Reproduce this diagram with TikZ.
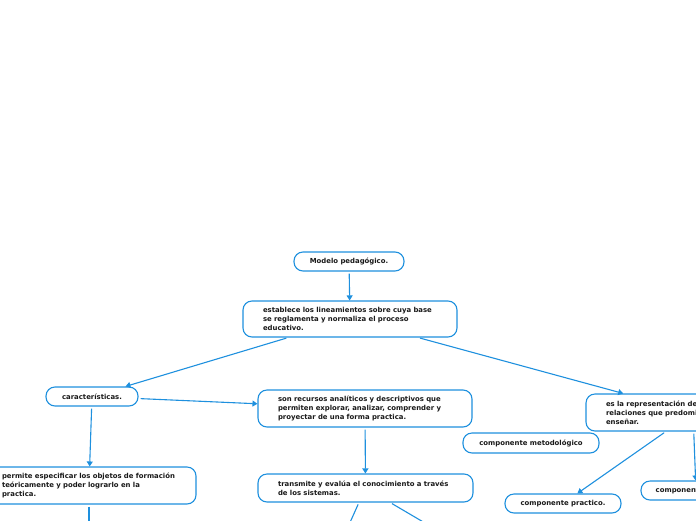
\documentclass[tikz,border=0pt]{standalone}
\usepackage{fontspec}
\setmainfont{DejaVu Sans}
\usetikzlibrary{arrows.meta}
\definecolor{mmblue}{RGB}{30,144,222}
\definecolor{mmtext}{RGB}{25,25,25}
\tikzset{
  mbox/.style={draw=mmblue, line width=1.1pt, rounded corners=9pt, fill=white,
    text=mmtext, font=\fontsize{6.9}{8.8}\selectfont\bfseries, inner ysep=2pt},
  cbox/.style={mbox, align=center},
  lbox/.style={mbox, align=left, inner xsep=20pt},
  arr/.style={draw=mmblue, line width=1.1pt, shorten <=2pt, -{Triangle[width=6pt,length=5pt]}},
  ln/.style={draw=mmblue, line width=1.1pt, shorten <=2pt}
}
\begin{document}
\begin{tikzpicture}[x=1pt,y=-1pt]
\useasboundingbox (0,0) rectangle (696,520);
\clip (0,0) rectangle (696,520);
\node[cbox, minimum width=110pt, minimum height=19pt] (modelo) at (349,261.5) {Modelo pedagógico.};
\node[lbox, text width=174pt, minimum height=36pt] (establece) at (350,319) {establece los lineamientos sobre cuya base\\se reglamenta y normaliza el proceso\\educativo.};
\node[cbox, minimum width=92pt, minimum height=19pt] (caract) at (92,396.5) {características.};
\node[lbox, text width=174pt, minimum height=37pt] (recursos) at (365,408.5) {son recursos analíticos y descriptivos que\\permiten explorar, analizar, comprender y\\proyectar de una forma practica.};
\node[lbox, text width=174pt, minimum height=37pt] (esla) at (693,412.5) {es la representación de las\\relaciones que predominan en\\enseñar.};
\node[cbox, minimum width=136pt, minimum height=20pt] (metodo) at (531,443) {componente metodológico};
\node[lbox, text width=174pt, minimum height=37pt] (permite) at (89,485.5) {permite especificar los objetos de formación\\teóricamente y poder lograrlo en la\\practica.};
\node[lbox, text width=175pt, minimum height=28pt] (transmite) at (365.5,488) {transmite y evalúa el conocimiento a través\\de los sistemas.};
\node[cbox, minimum width=116pt, minimum height=19pt] (practico) at (563,503.5) {componente practico.};
\node[cbox, minimum width=110pt, minimum height=19pt] (teorico) at (696,490.5) {componente teórico.};
\coordinate (p1) at (89,560);
\coordinate (t1) at (338.5,548);
\coordinate (t2) at (467.5,548);
\draw[arr] (modelo) -- (establece);
\draw[arr] (establece) -- (caract);
\draw[arr] (establece) -- (esla);
\draw[arr] (caract) -- (recursos);
\draw[arr] (caract) -- (permite);
\draw[arr] (recursos) -- (transmite);
\draw[arr] (esla) -- (practico);
\draw[arr] (esla) -- (teorico);
\draw[ln] (permite) -- (p1);
\draw[ln] (transmite) -- (t1);
\draw[ln] (transmite) -- (t2);
\end{tikzpicture}
\end{document}
